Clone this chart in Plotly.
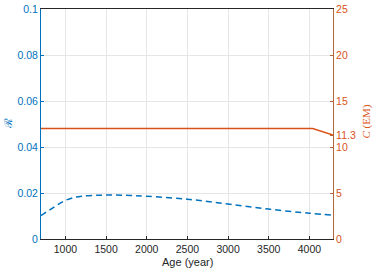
import plotly.graph_objects as go

age_r = [700, 800, 900, 1000, 1100, 1200, 1400, 1600, 1800, 2000, 2500, 3000, 3500, 4000, 4290]
r_vals = [0.0102, 0.0125, 0.0148, 0.0168, 0.0180, 0.0186, 0.0190, 0.0191, 0.0189, 0.0186,
          0.0173, 0.0152, 0.0130, 0.0112, 0.0104]
age_c = [700, 4040, 4290]
c_vals = [12.0, 12.0, 11.3]

x_ticks = [1000, 1500, 2000, 2500, 3000, 3500, 4000]
r_ticks = [0, 0.02, 0.04, 0.06, 0.08, 0.1]
r_tick_text = ["0", "0.02", "0.04", "0.06", "0.08", "0.1"]
c_ticks = [0, 5, 10, 11.3, 15, 20, 25]
c_tick_text = ["0", "5", "10", "11.3", "15", "20", "25"]

BLUE = "#0072BD"
ORANGE = "#D95319"
AXC = "#262626"
FONT = "Liberation Sans"

fig = go.Figure()
fig.add_trace(go.Scatter(x=age_r, y=r_vals, mode="lines", line=dict(color=BLUE, width=1.5, dash="6px,4px", shape="spline"),
                         yaxis="y", showlegend=False))
fig.add_trace(go.Scatter(x=age_c, y=c_vals, mode="lines", line=dict(color=ORANGE, width=1.5),
                         yaxis="y2", showlegend=False))

fig.update_layout(
    width=374, height=270,
    margin=dict(l=41, r=41, t=9, b=31, autoexpand=False),
    paper_bgcolor="white", plot_bgcolor="white",
    font=dict(family=FONT, size=10.5, color=AXC),
    xaxis=dict(range=[700, 4290], tickvals=x_ticks, ticks="inside", ticklen=3, tickcolor=AXC,
               showline=True, linecolor=AXC, linewidth=1, mirror=True, automargin=False,
               showgrid=True, gridcolor="#E6E6E6", gridwidth=1, zeroline=False,
               tickfont=dict(family=FONT, size=10.5, color=AXC)),
    yaxis=dict(range=[0, 0.1], tickvals=r_ticks, ticktext=r_tick_text, ticks="inside", ticklen=3,
               tickcolor=BLUE, showline=True, linecolor=BLUE, linewidth=1, automargin=False,
               showgrid=True, gridcolor="#E6E6E6", gridwidth=1, zeroline=False,
               tickfont=dict(family=FONT, size=10.5, color=BLUE)),
    yaxis2=dict(range=[0, 25], tickvals=c_ticks, ticktext=c_tick_text, ticks="inside", ticklen=3,
                tickcolor="#B5653A", showline=True, linecolor="#B5653A", linewidth=1, automargin=False,
                overlaying="y", side="right", showgrid=False, zeroline=False,
                tickfont=dict(family=FONT, size=10.5, color=ORANGE)),
    annotations=[
        dict(text="Age (year)", xref="paper", yref="paper", x=0.5, y=-0.098, showarrow=False,
             font=dict(family=FONT, size=11, color=AXC), xanchor="center", yanchor="middle"),
        dict(text="ℛ", xref="paper", yref="paper", x=-0.113, y=0.5, showarrow=False, textangle=-90,
             font=dict(family="DejaVu Serif", size=11, color=BLUE), xanchor="center", yanchor="middle"),
        dict(text="<i>C</i> (EM)", xref="paper", yref="paper", x=1.116, y=0.51, showarrow=False, textangle=-90,
             font=dict(family="Liberation Serif", size=11, color=ORANGE), xanchor="center", yanchor="middle"),
    ],
)

fig.write_html("out.html", config={"displayModeBar": False},
               post_script="document.body.style.margin='0';")
